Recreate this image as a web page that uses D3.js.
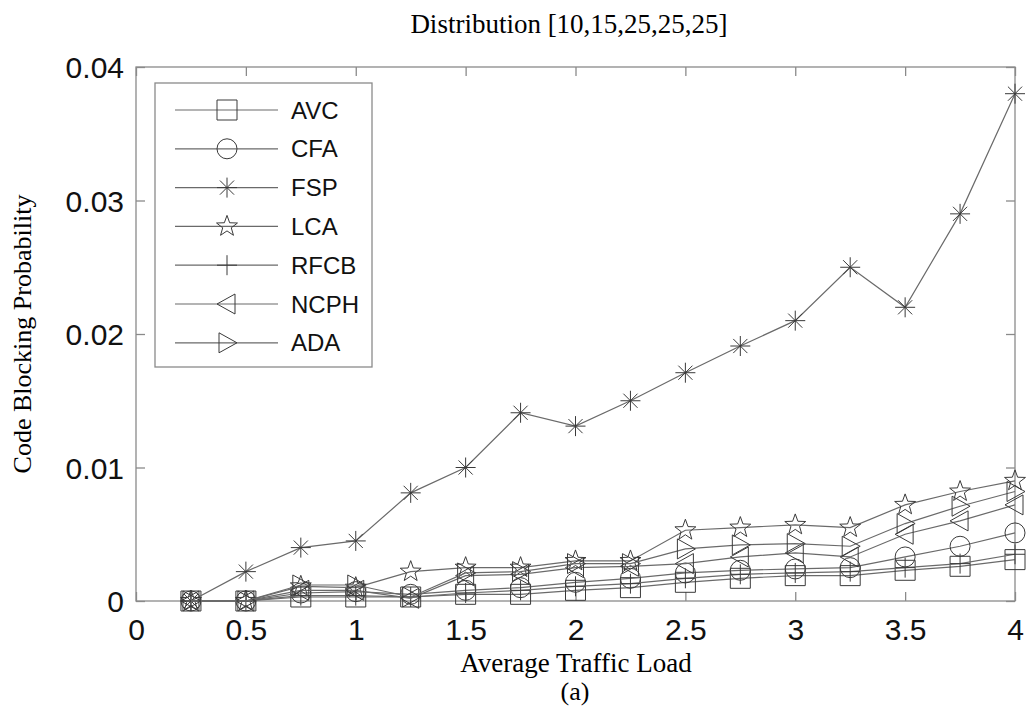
<!DOCTYPE html>
<html>
<head>
<meta charset="utf-8">
<script src="https://cdn.jsdelivr.net/npm/d3@7"></script>
<style>
  body { margin: 0; background: #fff; }
  svg { display: block; }
</style>
</head>
<body>
<div class="chart"></div>
<script>
// traffic load values on the x axis
var loads = [0.25, 0.5, 0.75, 1, 1.25, 1.5, 1.75, 2, 2.25, 2.5, 2.75, 3, 3.25, 3.5, 3.75, 4];

var avc  = [0, 0, 0.0003, 0.0003, 0.0003, 0.0005, 0.0005, 0.0008, 0.001, 0.0014, 0.0017, 0.0019, 0.0019, 0.0023, 0.0026, 0.0031];
var cfa  = [0, 0, 0.0006, 0.0007, 0.0005, 0.0008, 0.001, 0.0014, 0.0017, 0.0021, 0.0023, 0.0024, 0.0025, 0.0033, 0.0041, 0.0051];
var fsp  = [0, 0.0022, 0.004, 0.0045, 0.0081, 0.01, 0.0141, 0.0131, 0.015, 0.0171, 0.0191, 0.021, 0.025, 0.022, 0.029, 0.038];
var lca  = [0, 0, 0.0011, 0.001, 0.0022, 0.0025, 0.0025, 0.003, 0.003, 0.0053, 0.0055, 0.0057, 0.0055, 0.0072, 0.0082, 0.009];
var rfcb = [0, 0, 0.0004, 0.0004, 0.0003, 0.0006, 0.0008, 0.0011, 0.0013, 0.0017, 0.002, 0.0021, 0.0022, 0.0025, 0.0028, 0.0035];
var ncph = [0, 0, 0.0008, 0.0008, 0.0002, 0.0019, 0.002, 0.0025, 0.0026, 0.0028, 0.0033, 0.0036, 0.0033, 0.005, 0.006, 0.0072];
var ada  = [0, 0, 0.0012, 0.0012, 0.0003, 0.0021, 0.0022, 0.0028, 0.0028, 0.0039, 0.0042, 0.0043, 0.0041, 0.0058, 0.0071, 0.0082];

var names = ['AVC', 'CFA', 'FSP', 'LCA', 'RFCB', 'NCPH', 'ADA'];
var shapes = ['square', 'circle', 'asterisk', 'star', 'plus', 'left', 'right'];
var seriesValues = [avc, cfa, fsp, lca, rfcb, ncph, ada];

var xTicks = [0, 0.5, 1, 1.5, 2, 2.5, 3, 3.5, 4];
var yTicks = [0, 0.01, 0.02, 0.03, 0.04];

var W = 1029, H = 712;
var plotL = 136, plotR = 1015, plotT = 67, plotB = 601;

var svg = d3.select('.chart')
  .append('svg')
  .attr('width', W)
  .attr('height', H);

var x = d3.scaleLinear().domain([0, 4]).range([plotL, plotR]);
var y = d3.scaleLinear().domain([0, 0.04]).range([plotB, plotT]);

var axisColor = '#8a8a8a';
var lineColor = '#6a6a6a';
var markColor = '#3a3a3a';

// frame
svg.append('rect')
  .attr('x', plotL).attr('y', plotT)
  .attr('width', plotR - plotL).attr('height', plotB - plotT)
  .attr('fill', 'none').attr('stroke', axisColor).attr('stroke-width', 1.3);

// axes with inward ticks
var xAxis = svg.append('g').attr('transform', 'translate(0,' + plotB + ')')
  .call(d3.axisBottom(x).tickValues(xTicks).tickSizeInner(-9).tickSizeOuter(0).tickPadding(18)
    .tickFormat(function(d) { return d3.format('')(d); }));
var xAxisTop = svg.append('g').attr('transform', 'translate(0,' + plotT + ')')
  .call(d3.axisTop(x).tickValues(xTicks).tickSizeInner(-9).tickSizeOuter(0).tickFormat(''));
var yAxis = svg.append('g').attr('transform', 'translate(' + plotL + ',0)')
  .call(d3.axisLeft(y).tickValues(yTicks).tickSizeInner(-9).tickSizeOuter(0).tickPadding(12)
    .tickFormat(function(d) { return d === 0 ? '0' : d3.format('.2f')(d); }));
var yAxisRight = svg.append('g').attr('transform', 'translate(' + plotR + ',0)')
  .call(d3.axisRight(y).tickValues(yTicks).tickSizeInner(-9).tickSizeOuter(0).tickFormat(''));

[xAxis, xAxisTop, yAxis, yAxisRight].forEach(function(g) {
  g.select('.domain').remove();
  g.selectAll('line').attr('stroke', axisColor).attr('stroke-width', 1.3);
  g.selectAll('text')
    .attr('fill', '#111')
    .style('font-family', '"Liberation Sans", Arial, sans-serif')
    .style('font-size', '30px');
});
xAxis.selectAll('text').attr('dy', '0.71em');
yAxis.selectAll('text').attr('dy', '0.36em');

// marker path generators
function markerPath(shape, s) {
  var p = d3.path();
  if (shape === 'square') {
    p.rect(-s, -s, 2 * s, 2 * s);
  } else if (shape === 'circle') {
    p.moveTo(s, 0); p.arc(0, 0, s, 0, 2 * Math.PI);
  } else if (shape === 'asterisk') {
    for (var i = 0; i < 4; i++) {
      var a = i * Math.PI / 4;
      p.moveTo(-s * Math.cos(a), -s * Math.sin(a));
      p.lineTo(s * Math.cos(a), s * Math.sin(a));
    }
  } else if (shape === 'star') {
    var ro = s * 1.1, ri = s * 0.45;
    for (var k = 0; k < 10; k++) {
      var r = k % 2 === 0 ? ro : ri;
      var ang = -Math.PI / 2 + k * Math.PI / 5;
      if (k === 0) p.moveTo(r * Math.cos(ang), r * Math.sin(ang));
      else p.lineTo(r * Math.cos(ang), r * Math.sin(ang));
    }
    p.closePath();
  } else if (shape === 'plus') {
    p.moveTo(0, -s); p.lineTo(0, s);
    p.moveTo(-s, 0); p.lineTo(s, 0);
  } else if (shape === 'left') {
    p.moveTo(-s, 0); p.lineTo(s * 0.8, -s); p.lineTo(s * 0.8, s); p.closePath();
  } else if (shape === 'right') {
    p.moveTo(s, 0); p.lineTo(-s * 0.8, -s); p.lineTo(-s * 0.8, s); p.closePath();
  }
  return p.toString();
}

var line = d3.line()
  .x(function(d) { return x(d[0]); })
  .y(function(d) { return y(d[1]); });

seriesValues.forEach(function(vals, i) {
  var pts = loads.map(function(l, j) { return [l, vals[j]]; });
  var g = svg.append('g').attr('class', 'series-' + names[i]);
  g.append('path')
    .attr('d', line(pts))
    .attr('fill', 'none')
    .attr('stroke', lineColor)
    .attr('stroke-width', 1.2);
  g.selectAll('.mk')
    .data(pts)
    .enter().append('path')
    .attr('class', 'mk')
    .attr('transform', function(d) { return 'translate(' + x(d[0]) + ',' + y(d[1]) + ')'; })
    .attr('d', markerPath(shapes[i], 10))
    .attr('fill', 'none')
    .attr('stroke', markColor)
    .attr('stroke-width', 1);
});

// legend
var legend = svg.append('g');
legend.append('rect')
  .attr('x', 155).attr('y', 83).attr('width', 217).attr('height', 284)
  .attr('fill', '#fff').attr('stroke', axisColor).attr('stroke-width', 1.3);

names.forEach(function(name, i) {
  var ly = 110 + i * 38.8;
  legend.append('line')
    .attr('x1', 175).attr('x2', 278).attr('y1', ly).attr('y2', ly)
    .attr('stroke', lineColor).attr('stroke-width', 1.2);
  legend.append('path')
    .attr('transform', 'translate(227,' + ly + ')')
    .attr('d', markerPath(shapes[i], 10))
    .attr('fill', 'none').attr('stroke', markColor).attr('stroke-width', 1);
  legend.append('text')
    .attr('x', 291).attr('y', ly).attr('dy', '0.36em')
    .text(name)
    .attr('fill', '#111')
    .style('font-family', '"Liberation Sans", Arial, sans-serif')
    .style('font-size', '24px');
});

// titles
var serif = '"Liberation Serif", "Times New Roman", serif';
svg.append('text')
  .attr('x', 569).attr('y', 33)
  .attr('text-anchor', 'middle')
  .style('font-family', serif).style('font-size', '27px')
  .text('Distribution [10,15,25,25,25]');

svg.append('text')
  .attr('x', 576).attr('y', 672)
  .attr('text-anchor', 'middle')
  .style('font-family', serif).style('font-size', '27px')
  .text('Average Traffic Load');

svg.append('text')
  .attr('x', 575).attr('y', 700)
  .attr('text-anchor', 'middle')
  .style('font-family', serif).style('font-size', '26px')
  .text('(a)');

svg.append('text')
  .attr('transform', 'translate(31,' + (plotT + plotB) / 2 + ') rotate(-90)')
  .attr('text-anchor', 'middle')
  .style('font-family', serif).style('font-size', '26px')
  .text('Code Blocking Probability');
</script>
</body>
</html>
